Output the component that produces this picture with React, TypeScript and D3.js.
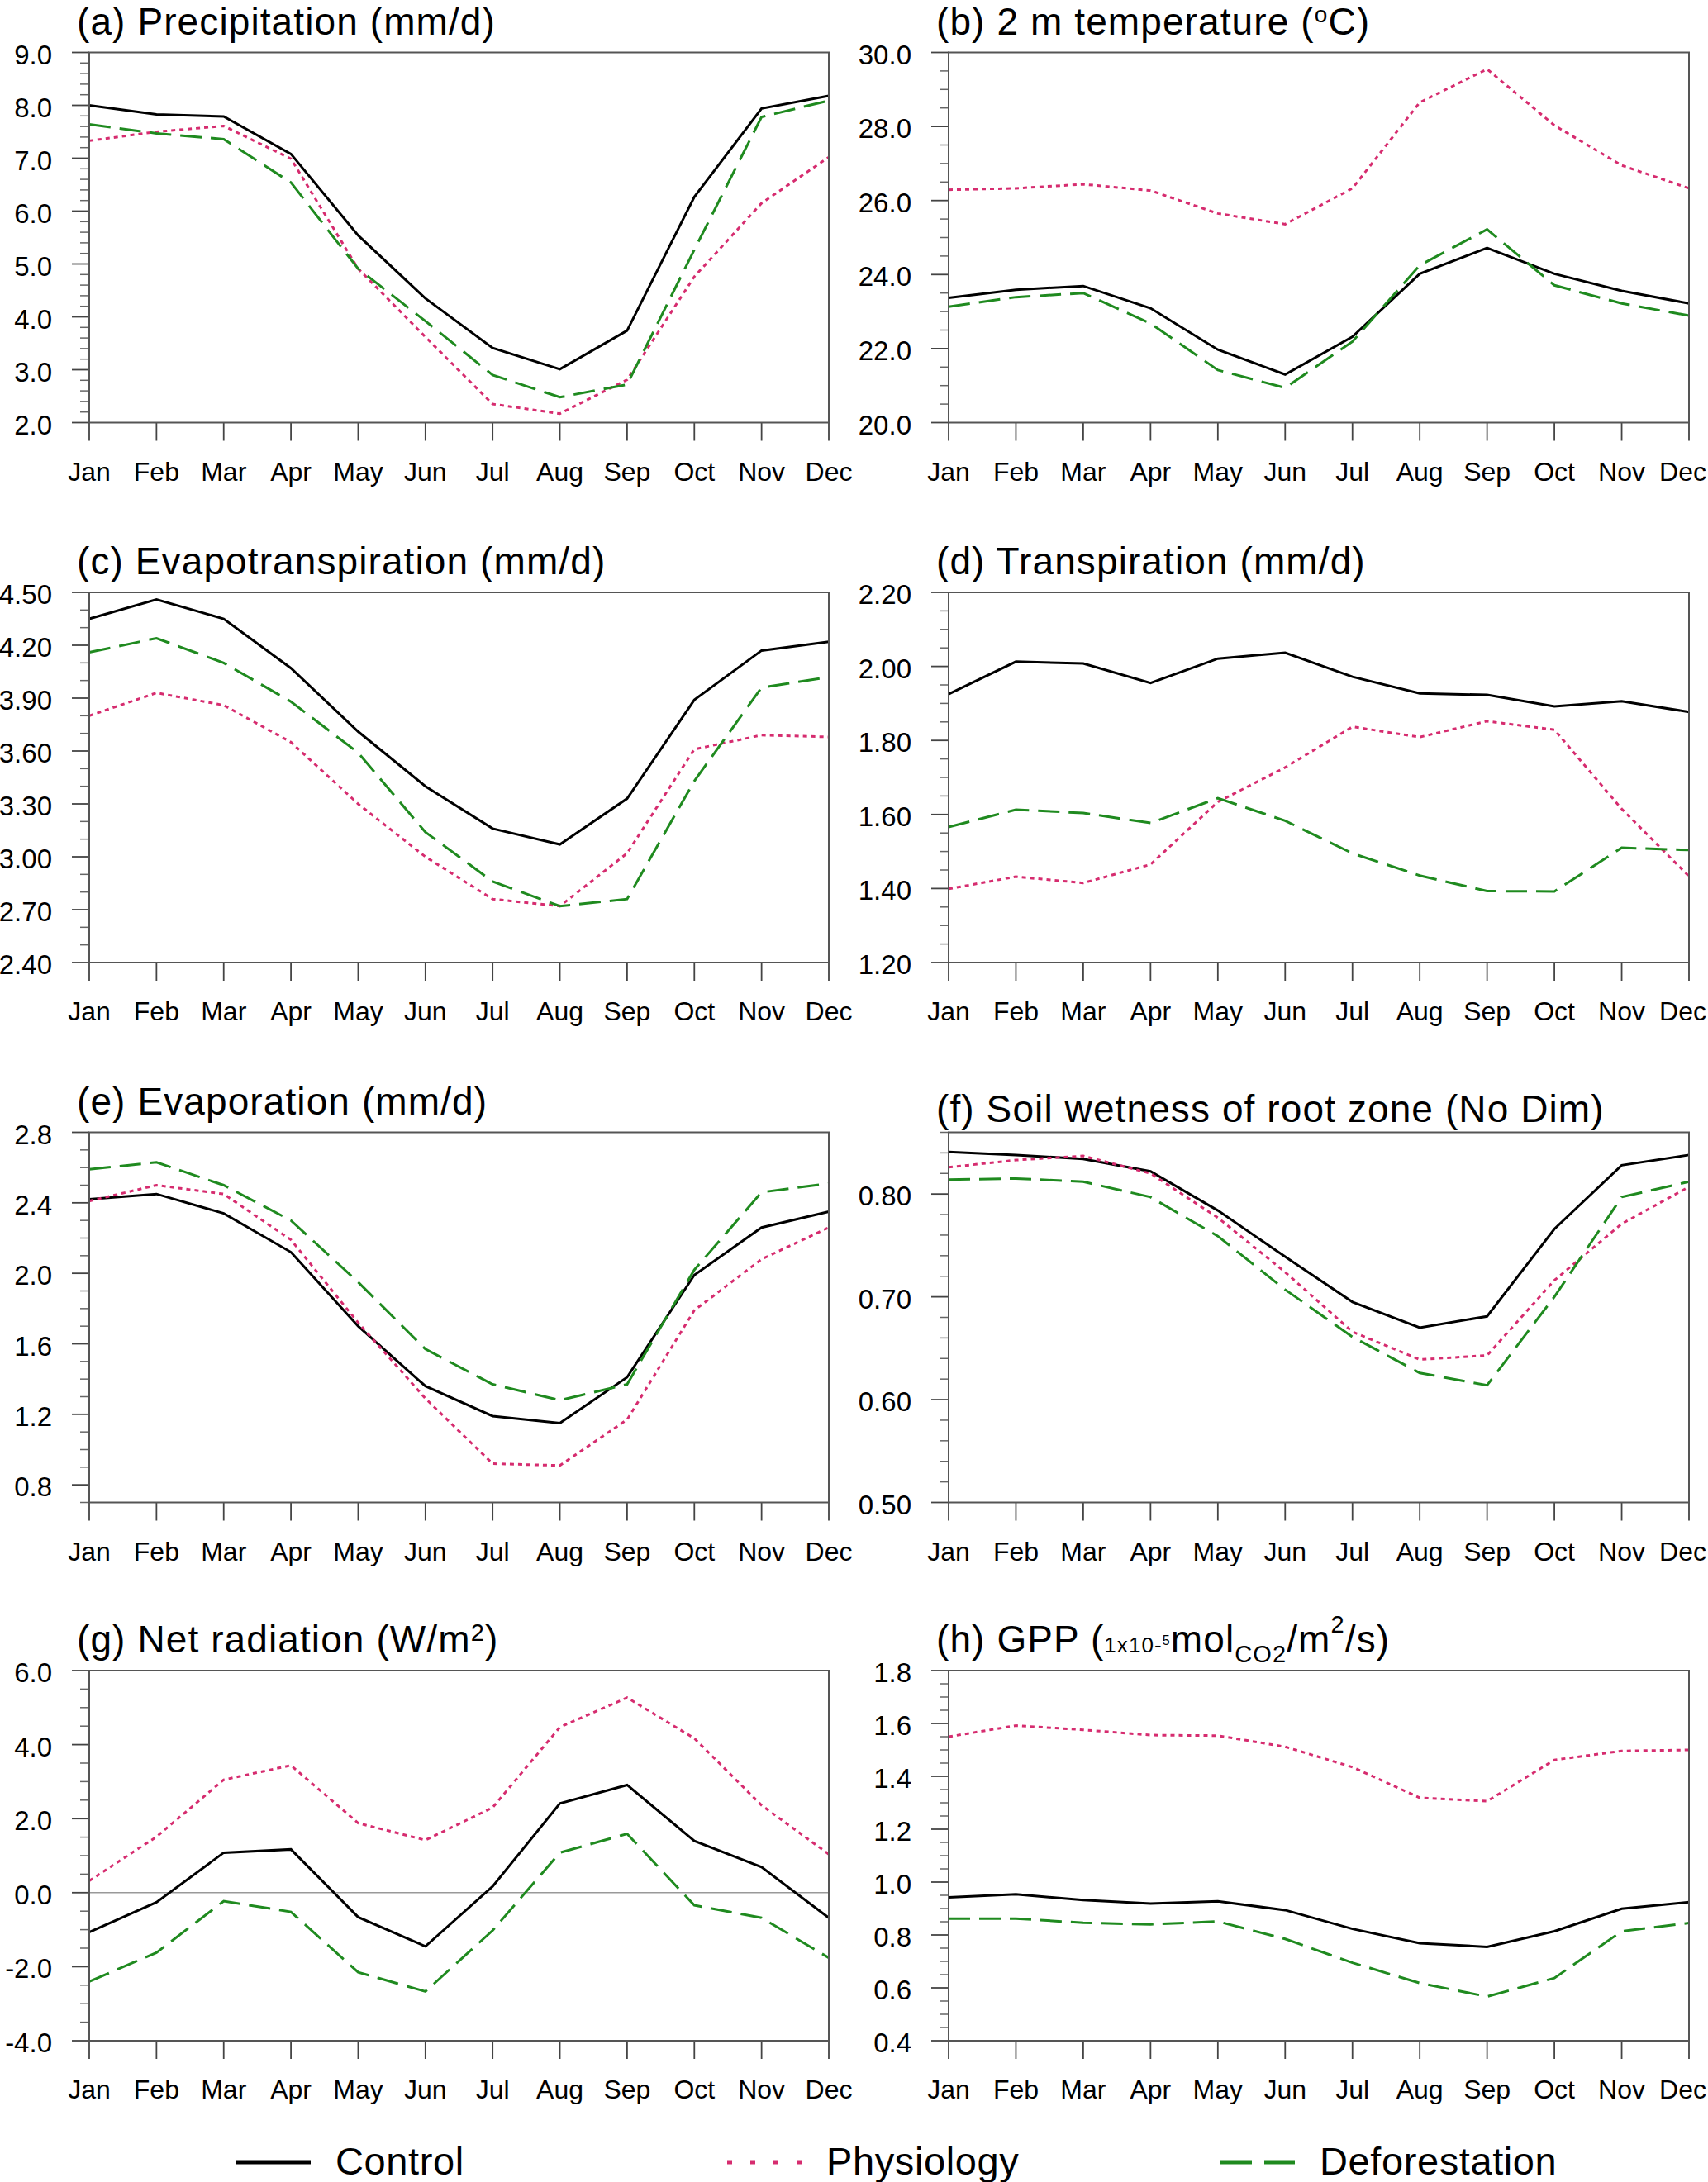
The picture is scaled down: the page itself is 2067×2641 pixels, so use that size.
import { useEffect, useRef } from 'react'
import * as d3 from 'd3'

const MONTHS = ['Jan', 'Feb', 'Mar', 'Apr', 'May', 'Jun', 'Jul', 'Aug', 'Sep', 'Oct', 'Nov', 'Dec']
const SERIES_NAMES = ['Control', 'Physiology', 'Deforestation']

// (a) precipitation, mm/d
const PRECIP_CONTROL = [8.0, 7.83, 7.79, 7.08, 5.54, 4.35, 3.41, 3.01, 3.74, 6.27, 7.94, 8.18]
const PRECIP_PHYSIOLOGY = [7.33, 7.5, 7.61, 6.99, 4.91, 3.62, 2.35, 2.17, 2.81, 4.76, 6.15, 7.02]
const PRECIP_DEFORESTATION = [7.64, 7.47, 7.36, 6.54, 4.91, 3.92, 2.9, 2.48, 2.72, 5.27, 7.78, 8.09]

// (b) 2 m temperature, degC
const T2M_CONTROL = [23.37, 23.59, 23.69, 23.09, 21.97, 21.3, 22.32, 24.02, 24.72, 24.02, 23.56, 23.22]
const T2M_PHYSIOLOGY = [26.29, 26.33, 26.44, 26.27, 25.65, 25.36, 26.33, 28.65, 29.55, 28.03, 26.95, 26.33]
const T2M_DEFORESTATION = [23.13, 23.39, 23.5, 22.68, 21.42, 20.94, 22.19, 24.25, 25.22, 23.71, 23.22, 22.89]

// (c) evapotranspiration, mm/d
const ET_CONTROL = [4.35, 4.46, 4.35, 4.07, 3.71, 3.4, 3.16, 3.07, 3.33, 3.89, 4.17, 4.22]
const ET_PHYSIOLOGY = [3.8, 3.93, 3.86, 3.65, 3.3, 3.0, 2.76, 2.72, 3.02, 3.61, 3.69, 3.68]
const ET_DEFORESTATION = [4.16, 4.24, 4.1, 3.88, 3.59, 3.14, 2.86, 2.72, 2.76, 3.43, 3.96, 4.02]

// (d) transpiration, mm/d
const TRANS_CONTROL = [1.925, 2.013, 2.008, 1.955, 2.021, 2.037, 1.972, 1.927, 1.923, 1.892, 1.906, 1.877]
const TRANS_PHYSIOLOGY = [1.399, 1.432, 1.415, 1.465, 1.634, 1.727, 1.837, 1.809, 1.852, 1.829, 1.615, 1.433]
const TRANS_DEFORESTATION = [1.566, 1.613, 1.604, 1.577, 1.644, 1.583, 1.495, 1.435, 1.393, 1.392, 1.51, 1.504]

// (e) evaporation, mm/d
const EVAP_CONTROL = [2.42, 2.45, 2.34, 2.12, 1.7, 1.36, 1.19, 1.15, 1.41, 1.99, 2.26, 2.35]
const EVAP_PHYSIOLOGY = [2.41, 2.5, 2.45, 2.19, 1.72, 1.29, 0.92, 0.91, 1.17, 1.79, 2.08, 2.26]
const EVAP_DEFORESTATION = [2.59, 2.63, 2.5, 2.3, 1.95, 1.57, 1.37, 1.28, 1.37, 2.02, 2.46, 2.51]

// (f) soil wetness of root zone
const SOIL_CONTROL = [0.841, 0.838, 0.834, 0.822, 0.784, 0.739, 0.695, 0.67, 0.681, 0.766, 0.828, 0.838]
const SOIL_PHYSIOLOGY = [0.826, 0.833, 0.837, 0.82, 0.777, 0.724, 0.666, 0.639, 0.643, 0.716, 0.771, 0.807]
const SOIL_DEFORESTATION = [0.814, 0.815, 0.812, 0.797, 0.759, 0.707, 0.661, 0.626, 0.614, 0.7, 0.797, 0.812]

// (g) net radiation, W/m2
const RAD_CONTROL = [-1.07, -0.26, 1.08, 1.17, -0.66, -1.45, 0.17, 2.41, 2.91, 1.4, 0.69, -0.68]
const RAD_PHYSIOLOGY = [0.32, 1.51, 3.05, 3.44, 1.88, 1.42, 2.3, 4.47, 5.27, 4.17, 2.36, 1.04]
const RAD_DEFORESTATION = [-2.4, -1.62, -0.23, -0.52, -2.15, -2.67, -1.02, 1.08, 1.59, -0.34, -0.68, -1.76]

// (h) GPP, 1e-5 mol CO2 / m2 / s
const GPP_CONTROL = [0.942, 0.954, 0.932, 0.919, 0.927, 0.894, 0.823, 0.769, 0.755, 0.814, 0.899, 0.924]
const GPP_PHYSIOLOGY = [1.55, 1.592, 1.576, 1.556, 1.554, 1.512, 1.435, 1.319, 1.306, 1.462, 1.496, 1.5]
const GPP_DEFORESTATION = [0.862, 0.862, 0.846, 0.84, 0.851, 0.785, 0.695, 0.618, 0.567, 0.637, 0.814, 0.845]

const FONT = '"Liberation Sans", Arial, Helvetica, sans-serif'
const COLORS = ['#000000', '#d62c6f', '#1f8a1f']
const DASHES = [null, '5 5', '26 11']

type TitlePart = { text: string; size?: number; shift?: number }

interface Panel {
  col: number
  row: number
  title: TitlePart[]
  titleGap?: number
  domain: [number, number]
  first: number
  step: number
  minor: number
  fmt: string
  zeroLine?: boolean
  series: number[][]
}

const PANELS: Panel[] = [
  { col: 0, row: 0, title: [{ text: '(a) Precipitation (mm/d)' }], domain: [2, 9], first: 2, step: 1, minor: 0.2, fmt: '.1f',
    series: [PRECIP_CONTROL, PRECIP_PHYSIOLOGY, PRECIP_DEFORESTATION] },
  { col: 1, row: 0, title: [{ text: '(b) 2 m temperature (' }, { text: 'o', size: 28, shift: -15 }, { text: 'C)' }],
    domain: [20, 30], first: 20, step: 2, minor: 0.5, fmt: '.1f',
    series: [T2M_CONTROL, T2M_PHYSIOLOGY, T2M_DEFORESTATION] },
  { col: 0, row: 1, title: [{ text: '(c) Evapotranspiration (mm/d)' }], domain: [2.4, 4.5], first: 2.4, step: 0.3, minor: 0.1, fmt: '.2f',
    series: [ET_CONTROL, ET_PHYSIOLOGY, ET_DEFORESTATION] },
  { col: 1, row: 1, title: [{ text: '(d) Transpiration (mm/d)' }], domain: [1.2, 2.2], first: 1.2, step: 0.2, minor: 0.05, fmt: '.2f',
    series: [TRANS_CONTROL, TRANS_PHYSIOLOGY, TRANS_DEFORESTATION] },
  { col: 0, row: 2, title: [{ text: '(e) Evaporation (mm/d)' }], domain: [0.7, 2.8], first: 0.8, step: 0.4, minor: 0.1, fmt: '.1f',
    series: [EVAP_CONTROL, EVAP_PHYSIOLOGY, EVAP_DEFORESTATION] },
  { col: 1, row: 2, title: [{ text: '(f) Soil wetness of root zone (No Dim)' }], titleGap: 13, domain: [0.5, 0.86], first: 0.5, step: 0.1, minor: 0.02, fmt: '.2f',
    series: [SOIL_CONTROL, SOIL_PHYSIOLOGY, SOIL_DEFORESTATION] },
  { col: 0, row: 3, title: [{ text: '(g) Net radiation (W/m' }, { text: '2', size: 29, shift: -14 }, { text: ')' }],
    domain: [-4, 6], first: -4, step: 2, minor: 0.5, fmt: '.1f', zeroLine: true,
    series: [RAD_CONTROL, RAD_PHYSIOLOGY, RAD_DEFORESTATION] },
  { col: 1, row: 3,
    title: [{ text: '(h) GPP (' }, { text: '1x10-', size: 26 }, { text: '5', size: 16, shift: -9 }, { text: 'mol' },
      { text: 'CO2', size: 29, shift: 12 }, { text: '/m' }, { text: '2', size: 29, shift: -24 }, { text: '/s)' }],
    domain: [0.4, 1.8], first: 0.4, step: 0.2, minor: 0.05, fmt: '.1f',
    series: [GPP_CONTROL, GPP_PHYSIOLOGY, GPP_DEFORESTATION] },
]

const COL_LEFT = [108, 1148]
const COL_WIDTH = [895, 896]
const ROW_TOP = [63.5, 717, 1370.5, 2022]
const PLOT_H = 448
const TITLE_SIZE = 46

export default function App() {
  const svgRef = useRef<SVGSVGElement>(null)
  const width = 2067
  const height = 2641

  useEffect(() => {
    if (!svgRef.current) return
    const svg = d3.select(svgRef.current)
    svg.selectAll('*').remove()
    svg.append('rect').attr('width', width).attr('height', height).attr('fill', '#fff')

    PANELS.forEach(p => {
      const x0 = COL_LEFT[p.col]
      const y0 = ROW_TOP[p.row]
      const w = COL_WIDTH[p.col]
      const g = svg.append('g').attr('transform', `translate(${x0},${y0})`)

      const x = d3.scalePoint<string>().domain(MONTHS).range([0, w])
      const y = d3.scaleLinear().domain(p.domain).range([PLOT_H, 0])
      const eps = 1e-6
      const majors = d3.range(p.first, p.domain[1] + eps, p.step)
      const minors = d3.range(p.domain[0], p.domain[1] + eps, p.minor)
        .filter(v => !majors.some(m => Math.abs(m - v) < eps))

      // minor ticks (outward)
      g.selectAll('.minor').data(minors).join('line')
        .attr('x1', -11).attr('x2', 0)
        .attr('y1', d => y(d)).attr('y2', d => y(d))
        .attr('stroke', '#666').attr('stroke-width', 1.5)
      // major ticks
      g.selectAll('.major').data(majors).join('line')
        .attr('x1', -21).attr('x2', 0)
        .attr('y1', d => y(d)).attr('y2', d => y(d))
        .attr('stroke', '#444').attr('stroke-width', 1.8)
      // plain hyphen for negatives, as in the original figure
      const fmt = d3.formatLocale({ decimal: '.', thousands: ',', grouping: [3], currency: ['', ''], minus: '-' }).format(p.fmt)
      g.selectAll('.ylab').data(majors).join('text')
        .attr('x', -45).attr('y', d => y(d) + 14)
        .attr('text-anchor', 'end')
        .attr('font-family', FONT).attr('font-size', 33)
        .text(d => fmt(d))

      // x ticks
      g.selectAll('.xtick').data(MONTHS).join('line')
        .attr('x1', d => x(d)!).attr('x2', d => x(d)!)
        .attr('y1', PLOT_H).attr('y2', PLOT_H + 22)
        .attr('stroke', '#444').attr('stroke-width', 1.8)
      g.selectAll('.xlab').data(MONTHS).join('text')
        .attr('x', d => x(d)!).attr('y', PLOT_H + 70)
        .attr('text-anchor', 'middle')
        .attr('font-family', FONT).attr('font-size', 32)
        .text(d => d)
        .each(function (d) {
          // keep the last label inside the page
          const el = this as SVGTextElement
          const half = el.getComputedTextLength() / 2
          const right = x0 + x(d)! + half
          if (right > width - 2) el.setAttribute('x', String(x(d)! - (right - width + 2)))
        })

      if (p.zeroLine) {
        g.append('line').attr('x1', 0).attr('x2', w)
          .attr('y1', y(0)).attr('y2', y(0))
          .attr('stroke', '#999').attr('stroke-width', 1.5)
      }

      const line = d3.line<number>().x((_, i) => x(MONTHS[i])!).y(d => y(d))
      p.series.forEach((s, i) => {
        g.append('path').datum(s)
          .attr('d', line)
          .attr('fill', 'none')
          .attr('stroke', COLORS[i])
          .attr('stroke-width', 3)
          .attr('stroke-dasharray', DASHES[i])
      })

      // frame
      g.append('rect').attr('width', w).attr('height', PLOT_H)
        .attr('fill', 'none').attr('stroke', '#555').attr('stroke-width', 2)

      // title with sub/superscripts
      const t = g.append('text')
        .attr('x', -15).attr('y', -(p.titleGap ?? 22))
        .attr('font-family', FONT).attr('font-size', TITLE_SIZE)
        .attr('letter-spacing', 1.1)
      let prev = 0
      p.title.forEach(part => {
        const shift = part.shift ?? 0
        t.append('tspan')
          .attr('dy', shift - prev)
          .attr('font-size', part.size ?? TITLE_SIZE)
          .text(part.text)
        prev = shift
      })
    })

    // legend
    const legendX = [286, 880, 1477]
    const legendY = 2617
    SERIES_NAMES.forEach((name, i) => {
      svg.append('line')
        .attr('x1', legendX[i]).attr('x2', legendX[i] + 90)
        .attr('y1', legendY).attr('y2', legendY)
        .attr('stroke', COLORS[i]).attr('stroke-width', 5)
        .attr('stroke-dasharray', i === 1 ? '6 22' : i === 2 ? '38 15' : null)
      svg.append('text')
        .attr('x', legendX[i] + 120).attr('y', legendY + 15)
        .attr('font-family', FONT).attr('font-size', 47)
        .attr('letter-spacing', 0.6)
        .text(name)
    })
  }, [])

  return (
    <div style={{ position: 'absolute', left: 0, top: 0 }}>
      <svg ref={svgRef} width={width} height={height} viewBox={`0 0 ${width} ${height}`} style={{ display: 'block' }} />
    </div>
  )
}
